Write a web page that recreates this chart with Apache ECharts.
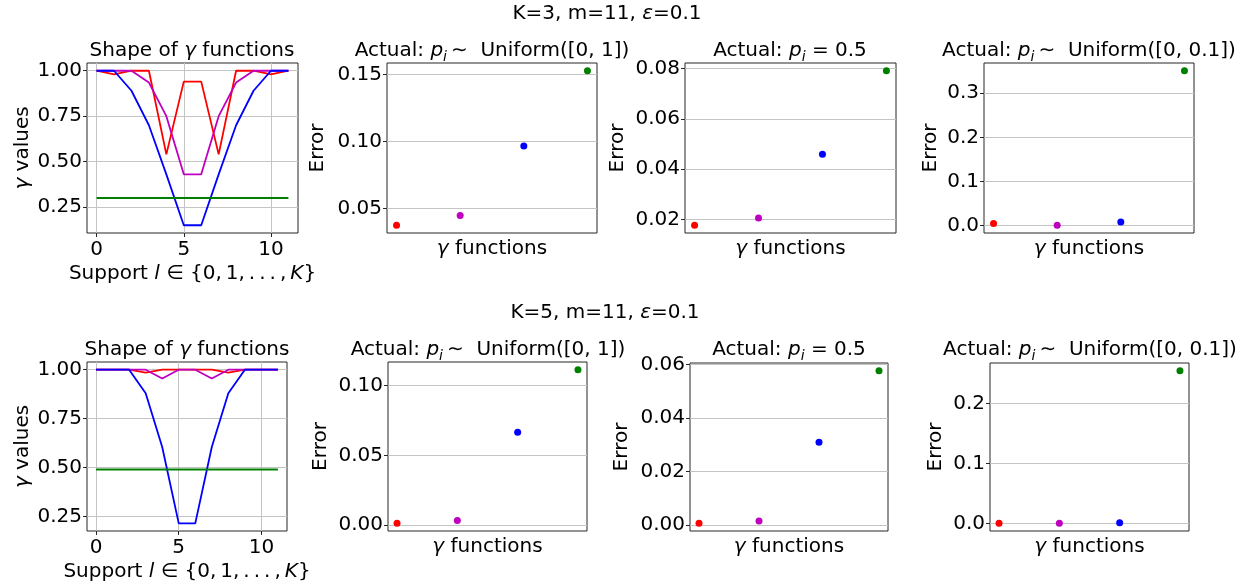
<!DOCTYPE html>
<html>
<head>
<meta charset="utf-8">
<script src="https://cdn.jsdelivr.net/npm/echarts@6/dist/echarts.min.js"></script>
<style>
  html, body { margin: 0; padding: 0; background: #fff; }
  #chart { width: 1255px; height: 588px; }
</style>
</head>
<body>
<div id="chart"></div>
<script>
// ---- data ----------------------------------------------------------------
// support points l = 0..11
const support = [0, 1, 2, 3, 4, 5, 6, 7, 8, 9, 10, 11];

// gamma functions, K = 3
const gammaK3Red     = [1.00, 0.98, 1.00, 1.00, 0.54, 0.94, 0.94, 0.54, 1.00, 1.00, 0.98, 1.00];
const gammaK3Magenta = [1.00, 1.00, 1.00, 0.935, 0.75, 0.43, 0.43, 0.75, 0.935, 1.00, 1.00, 1.00];
const gammaK3Blue    = [1.00, 1.00, 0.89, 0.70, 0.43, 0.15, 0.15, 0.43, 0.70, 0.89, 1.00, 1.00];
const gammaK3Green   = [0.30, 0.30, 0.30, 0.30, 0.30, 0.30, 0.30, 0.30, 0.30, 0.30, 0.30, 0.30];

// gamma functions, K = 5
const gammaK5Red     = [1.00, 1.00, 1.00, 0.985, 1.00, 1.00, 1.00, 1.00, 0.985, 1.00, 1.00, 1.00];
const gammaK5Magenta = [1.00, 1.00, 1.00, 1.00, 0.955, 1.00, 1.00, 0.955, 1.00, 1.00, 1.00, 1.00];
const gammaK5Blue    = [1.00, 1.00, 1.00, 0.88, 0.605, 0.215, 0.215, 0.605, 0.88, 1.00, 1.00, 1.00];
const gammaK5Green   = [0.49, 0.49, 0.49, 0.49, 0.49, 0.49, 0.49, 0.49, 0.49, 0.49, 0.49, 0.49];

// errors per gamma function (red, magenta, blue, green)
const errK3Uniform1   = [0.0375, 0.0447, 0.0966, 0.1528];
const errK3Half       = [0.0177, 0.0206, 0.0460, 0.0792];
const errK3Uniform01  = [0.0046, 0.0007, 0.0083, 0.3510];
const errK5Uniform1   = [0.0014, 0.0034, 0.0666, 0.1115];
const errK5Half       = [0.0007, 0.0016, 0.0310, 0.0577];
const errK5Uniform01  = [0.0001, 0.0000, 0.0011, 0.2550];

// tick values
const supportTicks         = [0, 5, 10];
const gammaTicks           = [0.25, 0.50, 0.75, 1.00];
const ticksK3Uniform1      = [0.05, 0.10, 0.15];
const ticksK3Half          = [0.02, 0.04, 0.06, 0.08];
const ticksK3Uniform01     = [0.0, 0.1, 0.2, 0.3];
const ticksK5Uniform1      = [0.00, 0.05, 0.10];
const ticksK5Half          = [0.00, 0.02, 0.04, 0.06];
const ticksK5Uniform01     = [0.0, 0.1, 0.2];

const gammaColors = ['#ff0000', '#bf00bf', '#0000ff', '#008000'];

// ---- styling helpers ------------------------------------------------------
const FONT = 'DejaVu Sans';
const FS = 20;
const baseText = { fontFamily: FONT, fontSize: FS, color: '#000', fontWeight: 'normal' };
const rich = {
  n:   { fontFamily: FONT, fontSize: FS, color: '#000', fontWeight: 'normal', lineHeight: 26 },
  it:  { fontFamily: FONT, fontSize: FS, color: '#000', fontWeight: 'normal', fontStyle: 'italic', lineHeight: 26 },
  sub: { fontFamily: FONT, fontSize: 14, color: '#000', fontWeight: 'normal', fontStyle: 'italic', verticalAlign: 'bottom', lineHeight: 16 }
};

// matplotlib-like 5% padding around the data range
function padded(arrays) {
  const all = [].concat(...arrays);
  const lo = Math.min(...all), hi = Math.max(...all);
  const d = (hi - lo) * 0.05;
  return [lo - d, hi + d];
}

const grids = [
  // top row (K = 3)
  { left: 87,  top: 63,  width: 211, height: 170 },
  { left: 387, top: 63,  width: 210, height: 170 },
  { left: 685, top: 63,  width: 211, height: 170 },
  { left: 984, top: 63,  width: 210, height: 170 },
  // bottom row (K = 5)
  { left: 87,  top: 362, width: 200, height: 169 },
  { left: 388, top: 362, width: 199, height: 169 },
  { left: 690, top: 363, width: 198, height: 168 },
  { left: 990, top: 363, width: 199, height: 168 }
].map(g => Object.assign({ show: true, borderColor: '#262626', borderWidth: 1, backgroundColor: 'transparent' }, g));

const tickStyle = { lineStyle: { color: '#262626', width: 1 } };
const gridLine = { show: true, lineStyle: { color: '#c4c4c4', width: 1 } };

function valueAxisBase(idx) {
  return {
    type: 'value', gridIndex: idx,
    axisLine: { show: false, onZero: false },
    nameTextStyle: Object.assign({ rich: rich }, baseText)
  };
}

const xAxes = [];
const yAxes = [];
const series = [];

const TS = '\u2009'; // thin space
const supportName = '{n|Support }{it|l}{n| ∈ {0,' + TS + '1,' + TS + '.' + TS + '.' + TS + '.' + TS + ',' + TS + '}{it|K}}';

function addGammaPanel(idx, lines, yName) {
  const [ylo, yhi] = padded(lines);
  const [xlo, xhi] = padded([support]);
  xAxes.push(Object.assign(valueAxisBase(idx), {
    min: xlo, max: xhi,
    axisTick: Object.assign({ show: true, length: 4, customValues: supportTicks }, tickStyle),
    axisLabel: { customValues: supportTicks, fontFamily: FONT, fontSize: FS, color: '#000', margin: 7 },
    splitLine: gridLine,
    name: supportName,
    nameLocation: 'middle', nameGap: 28
  }));
  yAxes.push(Object.assign(valueAxisBase(idx), {
    min: ylo, max: yhi,
    axisTick: Object.assign({ show: true, length: 4, customValues: gammaTicks }, tickStyle),
    axisLabel: { customValues: gammaTicks, formatter: v => v.toFixed(2), fontFamily: FONT, fontSize: FS, color: '#000', margin: 5 },
    splitLine: gridLine,
    name: yName, nameLocation: 'middle', nameGap: 51
  }));
  lines.forEach((arr, k) => {
    series.push({
      type: 'line', xAxisIndex: idx, yAxisIndex: idx,
      data: support.map((x, i) => [x, arr[i]]),
      showSymbol: false, silent: true,
      lineStyle: { color: gammaColors[k], width: 1.8 },
      itemStyle: { color: gammaColors[k] }
    });
  });
}

function addErrorPanel(idx, errs, ticks, digits, nameGap) {
  const [ylo, yhi] = padded([errs]);
  const [xlo, xhi] = padded([[0, errs.length - 1]]);
  xAxes.push(Object.assign(valueAxisBase(idx), {
    min: xlo, max: xhi,
    axisTick: { show: false }, axisLabel: { show: false }, splitLine: { show: false },
    name: '{it|γ}{n| functions}', nameLocation: 'middle', nameGap: 3
  }));
  yAxes.push(Object.assign(valueAxisBase(idx), {
    min: ylo, max: yhi,
    axisTick: Object.assign({ show: true, length: 4, customValues: ticks }, tickStyle),
    axisLabel: { customValues: ticks, formatter: v => v.toFixed(digits), fontFamily: FONT, fontSize: FS, color: '#000', margin: 5 },
    splitLine: gridLine,
    name: '{n|Error}', nameLocation: 'middle', nameGap: nameGap
  }));
  series.push({
    type: 'scatter', xAxisIndex: idx, yAxisIndex: idx, silent: true,
    symbolSize: 7,
    data: errs.map((v, i) => ({ value: [i, v], itemStyle: { color: gammaColors[i], opacity: 1 } }))
  });
}

addGammaPanel(0, [gammaK3Red, gammaK3Magenta, gammaK3Blue, gammaK3Green], '{it|γ}{n| values}');
addErrorPanel(1, errK3Uniform1, ticksK3Uniform1, 2, 56);
addErrorPanel(2, errK3Half, ticksK3Half, 2, 54);
addErrorPanel(3, errK3Uniform01, ticksK3Uniform01, 1, 40);
addGammaPanel(4, [gammaK5Red, gammaK5Magenta, gammaK5Blue, gammaK5Green], '{it|γ}{n| values}');
addErrorPanel(5, errK5Uniform1, ticksK5Uniform1, 2, 54);
addErrorPanel(6, errK5Half, ticksK5Half, 2, 55);
addErrorPanel(7, errK5Uniform01, ticksK5Uniform01, 1, 41);

function title(text, cx, cy) {
  return {
    text: text, left: cx, top: cy, padding: 0,
    textAlign: 'center', textVerticalAlign: 'middle',
    textStyle: Object.assign({ rich: rich }, baseText)
  };
}

const SIM = TS + '∼  Uniform';
const titles = [
  title('{n|K=3, m=11, }{it|ε}{n|=0.1}', 607, 14),
  title('{n|Shape of }{it|γ}{n| functions}', 192, 51),
  title('{n|Actual: }{it|p}{sub|i}{n|' + SIM + '([0, 1])}', 492, 51),
  title('{n|Actual: }{it|p}{sub|i}{n| = 0.5}', 790, 51),
  title('{n|Actual: }{it|p}{sub|i}{n|' + SIM + '([0, 0.1])}', 1089, 51),
  title('{n|K=5, m=11, }{it|ε}{n|=0.1}', 605, 313),
  title('{n|Shape of }{it|γ}{n| functions}', 187, 350),
  title('{n|Actual: }{it|p}{sub|i}{n|' + SIM + '([0, 1])}', 488, 350),
  title('{n|Actual: }{it|p}{sub|i}{n| = 0.5}', 789, 350),
  title('{n|Actual: }{it|p}{sub|i}{n|' + SIM + '([0, 0.1])}', 1090, 350)
];

const chart = echarts.init(document.getElementById('chart'), null, { renderer: 'canvas' });
chart.setOption({
  animation: false,
  backgroundColor: '#fff',
  title: titles,
  grid: grids,
  xAxis: xAxes,
  yAxis: yAxes,
  series: series
});
</script>
</body>
</html>
